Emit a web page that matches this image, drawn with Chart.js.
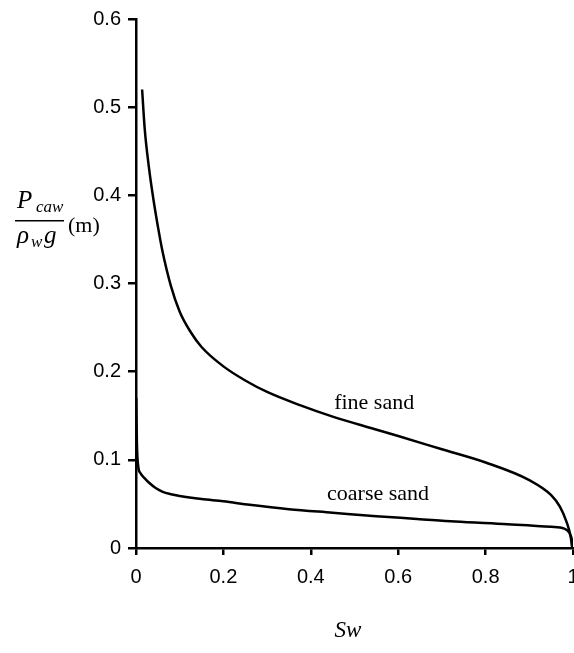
<!DOCTYPE html>
<html>
<head>
<meta charset="utf-8">
<script src="https://cdn.jsdelivr.net/npm/chart.js@4/dist/chart.umd.min.js"></script>
<style>
html,body{margin:0;padding:0;background:#fff;overflow:hidden;}
canvas{display:block;}
</style>
</head>
<body>
<canvas id="c" width="620" height="653"></canvas>
<script>
// ---- data ----
const fineSw = [0.014, 0.02, 0.03, 0.04, 0.05, 0.06, 0.08, 0.1, 0.125, 0.15, 0.2, 0.25, 0.3, 0.375, 0.45, 0.545, 0.6, 0.7, 0.8, 0.9, 0.95, 0.97, 0.985, 0.995, 0.998];
const fineP  = [0.52, 0.475, 0.43, 0.395, 0.365, 0.338, 0.297, 0.268, 0.245, 0.228, 0.206, 0.19, 0.177, 0.162, 0.149, 0.135, 0.127, 0.112, 0.097, 0.077, 0.06, 0.047, 0.03, 0.012, 0.0];
const coarseSw = [0.0005, 0.002, 0.005, 0.01, 0.02, 0.03, 0.045, 0.06, 0.08, 0.1, 0.15, 0.2, 0.26, 0.35, 0.45, 0.55, 0.643, 0.73, 0.85, 0.95, 0.98, 0.992, 0.998, 1.0];
const coarseP  = [0.17, 0.12, 0.093, 0.085, 0.079, 0.074, 0.068, 0.064, 0.061, 0.059, 0.0555, 0.053, 0.049, 0.044, 0.04, 0.036, 0.033, 0.03, 0.027, 0.024, 0.022, 0.017, 0.008, 0.0];
const xTickValues = [0, 0.2, 0.4, 0.6, 0.8, 1];
const xTickLabels = ['0', '0.2', '0.4', '0.6', '0.8', '1'];
const yTickValues = [0, 0.1, 0.2, 0.3, 0.4, 0.5, 0.6];
const yTickLabels = ['0', '0.1', '0.2', '0.3', '0.4', '0.5', '0.6'];
const seriesNames = ['fine sand', 'coarse sand'];

const toPts = (xs, ys) => xs.map((x, i) => ({x: x, y: ys[i]}));
const serif = '"Liberation Serif", "Times New Roman", serif';
const sans = '"Liberation Sans", Arial, sans-serif';

const textPlugin = {
  id: 'texts',
  afterDraw(chart) {
    const ctx = chart.ctx, xs = chart.scales.x, ys = chart.scales.y;
    ctx.save();
    ctx.fillStyle = '#000';
    ctx.textBaseline = 'alphabetic';
    // series labels
    ctx.textAlign = 'center';
    ctx.font = '22px ' + serif;
    ctx.fillText(seriesNames[0], xs.getPixelForValue(0.545), ys.getPixelForValue(0.158));
    ctx.fillText(seriesNames[1], xs.getPixelForValue(0.554), ys.getPixelForValue(0.054));
    // x title
    ctx.font = 'italic 23px ' + serif;
    ctx.fillText('Sw', 348, 637);
    // y title (fraction)
    ctx.textAlign = 'left';
    ctx.font = 'italic 25px ' + serif;
    ctx.fillText('P', 17, 208);
    ctx.font = 'italic 17px ' + serif;
    ctx.fillText('caw', 36, 212);
    ctx.fillRect(15, 220, 49, 1.5);
    ctx.font = 'italic 25px ' + serif;
    ctx.fillText('\u03C1', 17, 243);
    ctx.font = 'italic 17px ' + serif;
    ctx.fillText('w', 31, 247);
    ctx.font = 'italic 25px ' + serif;
    ctx.fillText('g', 44, 243);
    ctx.font = '22px ' + serif;
    ctx.fillText('(m)', 68, 232);
    ctx.restore();
  }
};

new Chart(document.getElementById('c'), {
  type: 'line',
  data: {
    datasets: [
      {label: seriesNames[0], data: toPts(fineSw, fineP), borderColor: '#000', borderWidth: 2.5, pointRadius: 0, cubicInterpolationMode: 'monotone', fill: false},
      {label: seriesNames[1], data: toPts(coarseSw, coarseP), borderColor: '#000', borderWidth: 2.5, pointRadius: 0, cubicInterpolationMode: 'monotone', fill: false}
    ]
  },
  options: {
    responsive: false,
    animation: false,
    devicePixelRatio: 1,
    layout: {padding: {left: 0, right: 47, top: 16, bottom: 0}},
    plugins: {legend: {display: false}, tooltip: {enabled: false}},
    scales: {
      x: {
        type: 'linear', min: 0, max: 1,
        afterBuildTicks(s) { s.ticks = xTickValues.map(v => ({value: v})); },
        afterFit(s) { s.height = 105; },
        ticks: {color: '#000', font: {family: sans, size: 20}, padding: 10, maxRotation: 0, autoSkip: false,
          callback: (v) => xTickLabels[xTickValues.indexOf(v)]},
        grid: {drawOnChartArea: false, color: '#000', lineWidth: 2.5, tickLength: 7},
        border: {color: '#000', width: 2.5}
      },
      y: {
        type: 'linear', min: 0, max: 0.6,
        afterBuildTicks(s) { s.ticks = yTickValues.map(v => ({value: v})); },
        afterFit(s) { s.width = 136; },
        ticks: {color: '#000', font: {family: sans, size: 20}, padding: 7, autoSkip: false,
          callback: (v) => yTickLabels[yTickValues.indexOf(v)]},
        grid: {drawOnChartArea: false, color: '#000', lineWidth: 2.5, tickLength: 8},
        border: {color: '#000', width: 2.5}
      }
    }
  },
  plugins: [textPlugin]
});
</script>
</body>
</html>
